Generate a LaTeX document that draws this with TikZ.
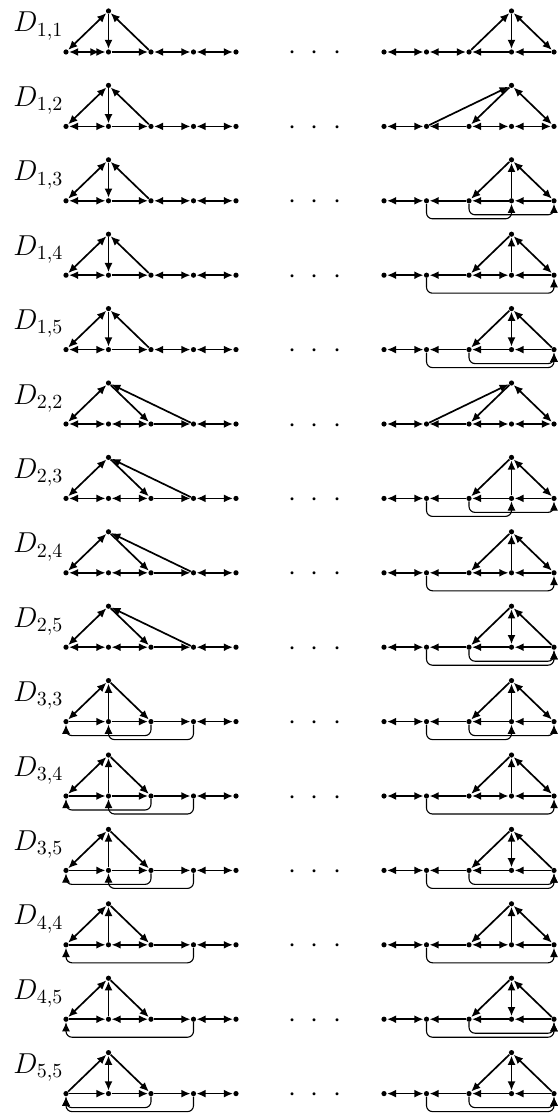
\documentclass[tikz,border=0pt]{standalone}
\usetikzlibrary{arrows.meta,calc}
\begin{document}
\begin{tikzpicture}[x=0.5pt,y=-0.5pt,
  v/.style={circle,fill=black,inner sep=0pt,minimum size=2.6pt},
  ed/.style={line width=0.85pt},
  da/.style={ed,-{Latex[length=4.6pt,width=4pt]}},
  ba/.style={ed,{Latex[length=4.6pt,width=4pt]}-{Latex[length=4.6pt,width=4pt]}},
  bb/.style={ed,{Latex[length=4.6pt,width=4pt]}-{Latex[length=4.6pt,width=4pt,sep=-1.6pt]Latex[length=4.6pt,width=4pt]}},
  cv/.style={line width=0.55pt,rounded corners=3pt,-{Latex[length=4.6pt,width=4pt]}},
  lab/.style={anchor=base west,inner sep=0pt,font=\fontsize{14.4}{17}\selectfont},
  dts/.style={anchor=base,inner sep=0pt,font=\fontsize{14.4}{17}\selectfont}]
\useasboundingbox (0,0) rectangle (558,1117);
\foreach \r/\i/\j in {1/1/1,2/1/2,3/1/3,4/1/4,5/1/5,6/2/2,7/2/3,8/2/4,9/2/5,10/3/3,11/3/4,12/3/5,13/4/4,14/4/5,15/5/5}{
  \pgfmathsetmacro\b{52+(\r-1)*74.4}
  \node[lab] (D) at (13,{\b-20}) {$D_{\i,\j}$};
  \node[dts] (dots) at (315,{\b+8}) {$\cdot\hspace{4pt}\cdot\hspace{4pt}\cdot$};
  \foreach \k/\x in {1/66,2/108.5,3/151,4/193.5,5/236} {\node[v] (L\k) at (\x,\b) {};}
  \node[v] (LT) at (108.5,{\b-41}) {};
  \foreach \k/\x in {1/384,2/426.5,3/469,4/511.5,5/554} {\node[v] (R\k) at (\x,\b) {};}
  \node[v] (RT) at (511.5,{\b-41}) {};
  \ifcase\i\or
    \draw[ba] (L1)--(LT); \draw[da] (LT)--(L2); \draw[da] (L3)--(LT);
    \ifnum\r=1 \draw[bb] (L1)--(L2); \else \draw[ba] (L1)--(L2); \fi
    \draw[da] (L2)--(L3); \draw[ba] (L3)--(L4); \draw[ba] (L4)--(L5);
  \or
    \draw[ba] (L1)--(LT); \draw[da] (LT)--(L3); \draw[da] (L4)--(LT);
    \draw[ba] (L1)--(L2); \draw[ba] (L2)--(L3); \draw[da] (L3)--(L4); \draw[ba] (L4)--(L5);
  \or
    \draw[ba] (L1)--(LT); \draw[da] (L2)--(LT); \draw[da] (LT)--(L3);
    \draw[da] (L1)--(L2); \draw[da] (L2)--(L3); \draw[da] (L3)--(L4); \draw[ba] (L4)--(L5);
    \draw[cv] (L4.south) |- ($(L2)+(0,18)$) -- (L2.south);
    \draw[cv] (L3.south) |- ($(L1)+(0,14)$) -- (L1.south);
  \or
    \draw[ba] (L1)--(LT); \draw[da] (L2)--(LT); \draw[da] (LT)--(L3);
    \draw[da] (L1)--(L2); \draw[ba] (L2)--(L3); \draw[da] (L3)--(L4); \draw[ba] (L4)--(L5);
    \draw[cv] (L4.south) |- ($(L1)+(0,18)$) -- (L1.south);
  \or
    \draw[da] (L1)--(LT); \draw[ba] (L2)--(LT); \draw[da] (LT)--(L3);
    \draw[da] (L1)--(L2); \draw[da] (L2)--(L3); \draw[da] (L3)--(L4); \draw[ba] (L4)--(L5);
    \draw[cv] (L4.south) |- ($(L1)+(0,18)$) -- (L1.south);
    \draw[cv] (L3.south) |- ($(L1)+(0,14)$) -- (L1.south);
  \fi
  \ifcase\j\or
    \draw[ba] (R1)--(R2); \draw[ba] (R2)--(R3); \draw[da] (R3)--(RT); \draw[da] (RT)--(R4);
    \draw[ba] (RT)--(R5); \draw[da] (R4)--(R3); \draw[da] (R5)--(R4);
  \or
    \draw[ba] (R1)--(R2); \draw[da] (R2)--(RT); \draw[da] (R3)--(R2); \draw[da] (RT)--(R3);
    \draw[ba] (R3)--(R4); \draw[ba] (R4)--(R5); \draw[ba] (RT)--(R5);
  \or
    \draw[ba] (R1)--(R2); \draw[da] (R3)--(R2); \draw[da] (RT)--(R3); \draw[da] (R4)--(RT);
    \draw[ba] (RT)--(R5); \draw[da] (R4)--(R3); \draw[da] (R5)--(R4);
    \draw[cv] (R2.south) |- ($(R4)+(0,18)$) -- (R4.south);
    \draw[cv] (R3.south) |- ($(R5)+(0,14)$) -- (R5.south);
  \or
    \draw[ba] (R1)--(R2); \draw[da] (R3)--(R2); \draw[da] (RT)--(R3); \draw[da] (R4)--(RT);
    \draw[ba] (RT)--(R5); \draw[ba] (R3)--(R4); \draw[da] (R5)--(R4);
    \draw[cv] (R2.south) |- ($(R5)+(0,18)$) -- (R5.south);
  \or
    \draw[ba] (R1)--(R2); \draw[da] (R3)--(R2); \draw[da] (RT)--(R3); \draw[ba] (R4)--(RT);
    \draw[da] (R5)--(RT); \draw[da] (R4)--(R3); \draw[da] (R5)--(R4);
    \draw[cv] (R2.south) |- ($(R5)+(0,18)$) -- (R5.south);
    \draw[cv] (R3.south) |- ($(R5)+(0,14)$) -- (R5.south);
  \fi
}
\end{tikzpicture}
\end{document}
